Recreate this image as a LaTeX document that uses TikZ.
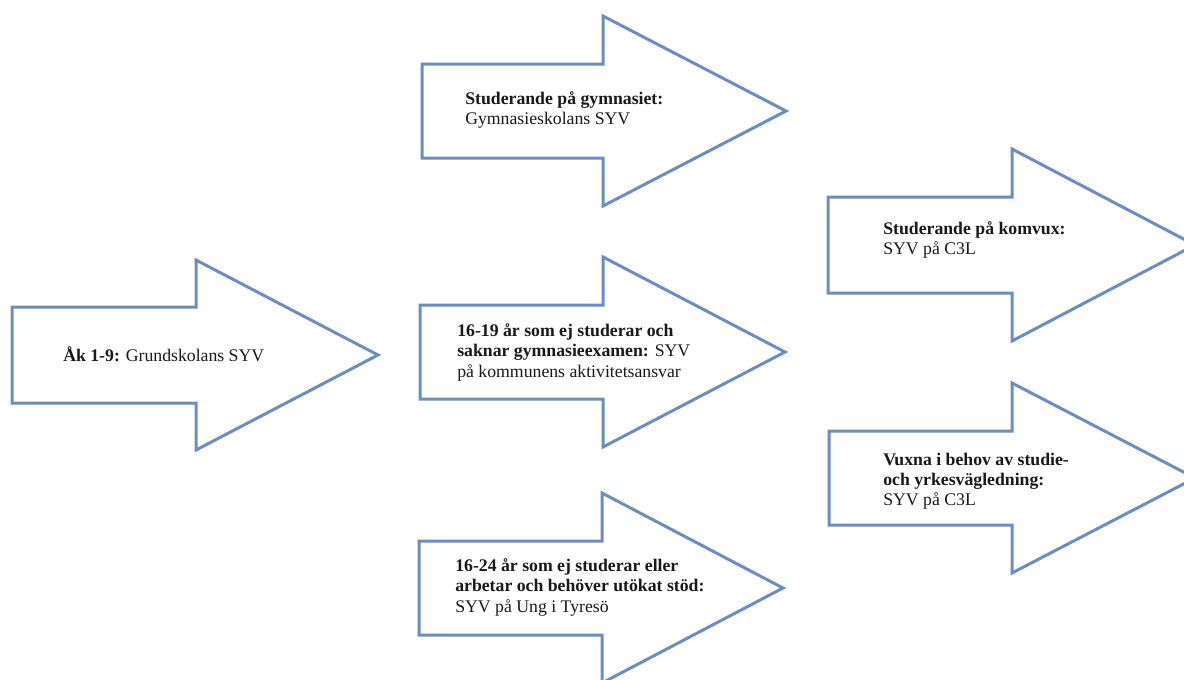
\documentclass[tikz,border=0pt]{standalone}
\usepackage{fontspec}
\setmainfont{Liberation Serif}
\definecolor{arrowblue}{RGB}{108,142,191}
\definecolor{txtcol}{RGB}{25,25,25}
\begin{document}
\begin{tikzpicture}[x=0.75pt,y=-0.75pt,
  bigarrow/.style={draw=arrowblue, line width=2.25pt, fill=white, line join=miter},
  txt/.style={anchor=base west, inner sep=0pt, text=txtcol, font=\fontsize{13.3}{15.5}\selectfont}]
\useasboundingbox (0,0) rectangle (1184,679);
\clip (0,0) rectangle (1184,679);
% arrow 1
\draw[bigarrow] (12,307) -- (196,307) -- (196,260) -- (378,355) -- (196,450) -- (196,403) -- (12,403) -- cycle;
% arrow 2
\draw[bigarrow] (422,64) -- (603,64) -- (603,16) -- (786,111) -- (603,206) -- (603,158) -- (422,158) -- cycle;
% arrow 3
\draw[bigarrow] (420,305) -- (603,305) -- (603,257) -- (785,352) -- (603,447) -- (603,399) -- (420,399) -- cycle;
% arrow 4
\draw[bigarrow] (419,541) -- (602,541) -- (602,493) -- (783,588) -- (602,683) -- (602,635) -- (419,635) -- cycle;
% arrow 5
\draw[bigarrow] (828,197) -- (1012,197) -- (1012,149) -- (1195,245) -- (1012,341) -- (1012,293) -- (828,293) -- cycle;
% arrow 6
\draw[bigarrow] (829,431) -- (1012,431) -- (1012,383) -- (1195,478) -- (1012,573) -- (1012,525) -- (829,525) -- cycle;

\node[txt] (a1) at (63,361) {\textbf{Åk 1-9:} Grundskolans SYV};

\node[txt] (a2l1) at (465,104) {\textbf{Studerande på gymnasiet:}};
\node[txt] (a2l2) at (465,124.5) {Gymnasieskolans SYV};

\node[txt] (a3l1) at (457,336) {\textbf{16-19 år som ej studerar och}};
\node[txt] (a3l2) at (457,356.5) {\textbf{saknar gymnasieexamen:} SYV};
\node[txt] (a3l3) at (457,377) {på kommunens aktivitetsansvar};

\node[txt] (a4l1) at (455,571) {\textbf{16-24 år som ej studerar eller}};
\node[txt] (a4l2) at (455,591.5) {\textbf{arbetar och behöver utökat stöd:}};
\node[txt] (a4l3) at (455,612) {SYV på Ung i Tyresö};

\node[txt] (a5l1) at (883,234) {\textbf{Studerande på komvux:}};
\node[txt] (a5l2) at (883,254.5) {SYV på C3L};

\node[txt] (a6l1) at (883,465) {\textbf{Vuxna i behov av studie-}};
\node[txt] (a6l2) at (883,485) {\textbf{och yrkesvägledning:}};
\node[txt] (a6l3) at (883,505) {SYV på C3L};
\end{tikzpicture}
\end{document}
